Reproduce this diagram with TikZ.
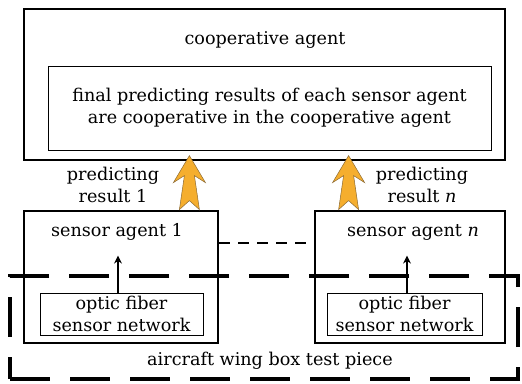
\documentclass[tikz,border=0pt]{standalone}
\usepackage{fontspec}
\setmainfont{DejaVu Serif}
\usepackage{tikz}
\usetikzlibrary{arrows.meta,positioning,calc}
\definecolor{clArrow}{HTML}{F5AE2E}
\definecolor{clArrowEdge}{HTML}{8C6A33}
\tikzset{
  box/.style={rectangle, draw, line width=2.8pt, inner sep=0pt},
  inbox/.style={rectangle, draw, line width=0.8pt, align=center, inner sep=0pt},
  piece/.style={rectangle, draw, line width=4pt, dash pattern=on 40pt off 20pt, inner sep=0pt},
  link/.style={line width=1.3pt, dash pattern=on 11pt off 8pt},
  up/.style={-{Stealth[length=8pt,width=8pt]}, line width=1.2pt},
  fatarrow/.pic={
    \draw[fill=clArrow, draw=clArrowEdge, line width=0.5pt]
      (0,-54) -- (16,-27) -- (5,-34) -- (10,0) -- (0,-9)
      -- (-10,0) -- (-5,-34) -- (-16,-27) -- cycle;
  },
}
\begin{document}
\begin{tikzpicture}[x=1pt, y=-1pt, every node/.style={font=\fontsize{17.6}{21.5}\selectfont, align=center}]
  \useasboundingbox (0,0) rectangle (522,383);
  % boxes
  \node[box, minimum width=481pt, minimum height=151pt] (coop) at (264.5,84.5) {};
  \node (cooptxt) at (265,40) {cooperative agent};
  \node[inbox, minimum width=443pt, minimum height=84pt] (final) at (269.5,108)
    {final predicting results of each sensor agent\\are cooperative in the cooperative agent};
  \node[box, minimum width=194pt, minimum height=132pt] (s1) at (121,277) {};
  \node[box, minimum width=190pt, minimum height=132pt] (sn) at (410,277) {};
  \node (s1txt) at (117,232) {sensor agent 1};
  \node (sntxt) at (413,232) {sensor agent \textit{n}};
  \node[inbox, minimum width=163pt, minimum height=42pt] (o1) at (121.5,314) {optic fiber\\sensor network};
  \node[inbox, minimum width=155pt, minimum height=42pt] (on) at (404.5,314) {optic fiber\\sensor network};
  \node[piece, minimum width=508pt, minimum height=103pt] (test) at (264,327.5) {};
  \node (testtxt) at (270,361) {aircraft wing box test piece};
  % arrows
  \pic at ($(s1.north east)+(-30,0)$) {fatarrow};
  \pic at ($(sn.north west)+(35,0)$) {fatarrow};
  \node (r1) at (113,185) {predicting\\result 1};
  \node (rn) at (422,185) {predicting\\result \textit{n}};
  \draw[up] ([xshift=-3.5pt]o1.north) -- ([xshift=-3.5pt, yshift=37pt]o1.north);
  \draw[up] ([xshift=2.5pt]on.north) -- ([xshift=2.5pt, yshift=37pt]on.north);
  \draw[link] ([yshift=34pt]s1.east) -- ([yshift=34pt]sn.west);
\end{tikzpicture}
\end{document}
